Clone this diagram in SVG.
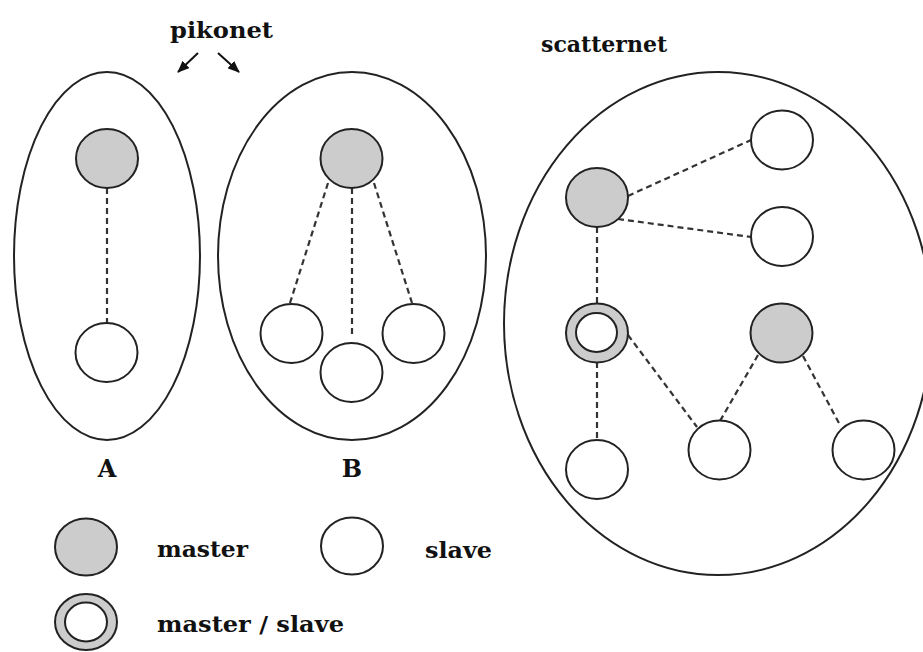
<svg xmlns="http://www.w3.org/2000/svg" width="923" height="652" viewBox="0 0 923 652">
  <style>
    .net { fill: none; stroke: #222; stroke-width: 2; }
    .master { fill: #cccccc; stroke: #222; stroke-width: 2; }
    .slave { fill: #ffffff; stroke: #222; stroke-width: 2; }
    .link { stroke: #333; stroke-width: 2.2; stroke-dasharray: 6 4; fill: none; }
    .lbl { font-family: "DejaVu Serif", "Liberation Serif", serif; font-weight: bold; fill: #111; }
    .arrow { stroke: #111; stroke-width: 2; fill: none; }
  </style>
  <defs>
    <marker id="head" viewBox="0 0 12 10" refX="11" refY="5" markerWidth="6" markerHeight="5" orient="auto" markerUnits="strokeWidth">
      <path d="M0,0 L12,5 L0,10 Z" fill="#111"/>
    </marker>
  </defs>

  <rect width="923" height="652" fill="#ffffff"/>

  <!-- titles -->
  <text class="lbl" x="170" y="38" font-size="22" textLength="103" lengthAdjust="spacingAndGlyphs">pikonet</text>
  <text class="lbl" x="541" y="52" font-size="22">scatternet</text>
  <line class="arrow" x1="198" y1="53" x2="178" y2="72" marker-end="url(#head)"/>
  <line class="arrow" x1="218" y1="53" x2="239" y2="72" marker-end="url(#head)"/>

  <!-- piconet boundaries and scatternet boundary -->
  <g id="piconet-A-area"><ellipse class="net" cx="107" cy="256" rx="93" ry="184"/></g>
  <g id="piconet-B-area"><ellipse class="net" cx="352" cy="256" rx="134" ry="184"/></g>
  <g id="scatternet-area"><ellipse class="net" cx="718" cy="323.5" rx="214" ry="251.5"/></g>

  <!-- connectors -->
  <g id="links">
    <line class="link" x1="107" y1="188" x2="107" y2="323"/>
    <line class="link" x1="328" y1="183" x2="290" y2="303"/>
    <line class="link" x1="352" y1="188" x2="352" y2="338"/>
    <line class="link" x1="374" y1="183" x2="412" y2="303"/>
    <line class="link" x1="628" y1="196" x2="751" y2="140"/>
    <line class="link" x1="618" y1="219" x2="751" y2="237"/>
    <line class="link" x1="597" y1="227" x2="597" y2="304"/>
    <line class="link" x1="597" y1="362" x2="597" y2="440"/>
    <line class="link" x1="628" y1="335" x2="697" y2="427"/>
    <line class="link" x1="758" y1="355" x2="720" y2="421"/>
    <line class="link" x1="803" y1="356" x2="840" y2="425"/>
  </g>

  <!-- piconet A -->
  <g id="A-master"><ellipse class="master" cx="107" cy="158.5" rx="31" ry="29.5"/></g>
  <g id="A-slave"><ellipse class="slave" cx="106.5" cy="352.5" rx="31" ry="29.5"/></g>

  <!-- piconet B -->
  <g id="B-master"><ellipse class="master" cx="351.5" cy="158.5" rx="31" ry="29.5"/></g>
  <g id="B-slave-1"><ellipse class="slave" cx="291.5" cy="333.5" rx="31" ry="29.5"/></g>
  <g id="B-slave-2"><ellipse class="slave" cx="351.5" cy="372.5" rx="31" ry="29.5"/></g>
  <g id="B-slave-3"><ellipse class="slave" cx="413.5" cy="333.5" rx="31" ry="29.5"/></g>

  <!-- scatternet -->
  <g id="S-master-1"><ellipse class="master" cx="597" cy="197.5" rx="31" ry="29.5"/></g>
  <g id="S-slave-1"><ellipse class="slave" cx="782" cy="140" rx="31" ry="29.5"/></g>
  <g id="S-slave-2"><ellipse class="slave" cx="782" cy="236.5" rx="31" ry="29.5"/></g>
  <g id="S-bridge">
    <ellipse class="master" cx="597" cy="333" rx="31" ry="29.5"/>
    <ellipse class="slave" cx="596.5" cy="332.5" rx="20.5" ry="19.5"/>
  </g>
  <g id="S-master-2"><ellipse class="master" cx="781.5" cy="333" rx="31" ry="29.5"/></g>
  <g id="S-slave-3"><ellipse class="slave" cx="597" cy="469.5" rx="31" ry="29.5"/></g>
  <g id="S-slave-4"><ellipse class="slave" cx="719.5" cy="450" rx="31" ry="29.5"/></g>
  <g id="S-slave-5"><ellipse class="slave" cx="863.5" cy="450" rx="31" ry="29.5"/></g>

  <!-- piconet names -->
  <text class="lbl" x="107" y="477" font-size="24" text-anchor="middle">A</text>
  <text class="lbl" x="352" y="477" font-size="24" text-anchor="middle">B</text>

  <!-- legend -->
  <g id="legend-master">
    <ellipse class="master" cx="86" cy="547" rx="31" ry="28.5"/>
    <text class="lbl" x="157" y="557" font-size="22" textLength="91" lengthAdjust="spacingAndGlyphs">master</text>
  </g>
  <g id="legend-slave">
    <ellipse class="slave" cx="352" cy="546" rx="31" ry="28.5"/>
    <text class="lbl" x="425" y="558" font-size="22" textLength="67" lengthAdjust="spacingAndGlyphs">slave</text>
  </g>
  <g id="legend-master-slave">
    <ellipse class="master" cx="86" cy="622" rx="31" ry="28"/>
    <ellipse class="slave" cx="86" cy="622" rx="21" ry="19.5"/>
    <text class="lbl" x="157" y="632" font-size="22" textLength="187" lengthAdjust="spacingAndGlyphs">master / slave</text>
  </g>
</svg>
